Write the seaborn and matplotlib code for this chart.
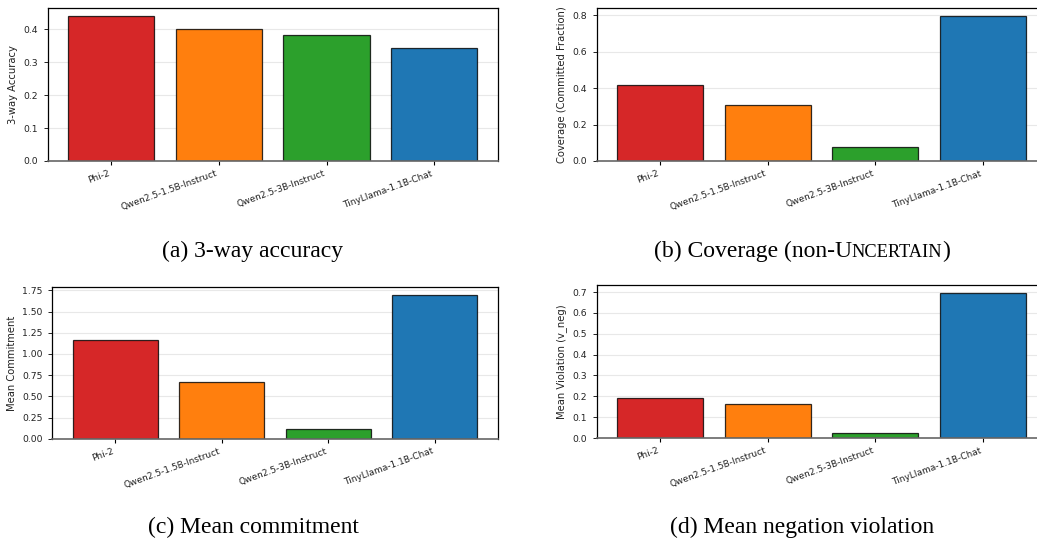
import matplotlib
matplotlib.use("Agg")
import matplotlib.pyplot as plt
import seaborn as sns

models = ["Phi-2", "Qwen2.5-1.5B-Instruct", "Qwen2.5-3B-Instruct", "TinyLlama-1.1B-Chat"]
colors = ["#d62728", "#ff7f0e", "#2ca02c", "#1f77b4"]

accuracy = [0.441, 0.401, 0.383, 0.342]
coverage = [0.416, 0.310, 0.075, 0.798]
commitment = [1.163, 0.674, 0.111, 1.702]
violation = [0.194, 0.165, 0.024, 0.698]

ylabels = ["3-way Accuracy", "Coverage (Committed Fraction)", "Mean Commitment", "Mean Violation (v_neg)"]

W, H = 1037, 542
fig = plt.figure(figsize=(W / 100, H / 100), dpi=100)

# axes boxes in pixels: left, top, right, bottom
boxes = [
    (47.7, 8.3, 497.7, 161.0),
    (596.7, 8.3, 1046.0, 161.0),
    (52.3, 287.3, 497.7, 438.7),
    (596.7, 285.3, 1046.0, 438.0),
]
series = [accuracy, coverage, commitment, violation]


def bar_panel(ax, values, ylabel):
    sns.barplot(x=models, y=values, hue=models, palette=colors, legend=False,
                edgecolor="black", linewidth=0.9, width=0.8, saturation=1, ax=ax)
    for p in ax.patches:
        p.set_edgecolor((0, 0, 0, 0.8))
    ax.set_xlim(-0.59, len(models) - 1 + 0.59)
    ax.set_ylim(0, max(values) * 1.05)
    ax.yaxis.grid(True, color="#cccccc", alpha=0.45, linewidth=0.8)
    ax.set_axisbelow(True)
    ax.set_ylabel(ylabel, fontsize=7.2, color="#222222")
    ax.set_xlabel("")
    ax.tick_params(axis="y", labelsize=6.7, length=2.8, width=0.6, pad=4, labelcolor="#222222")
    ax.tick_params(axis="x", labelsize=6.5, length=2.8, width=0.8, pad=3, labelcolor="#222222")
    plt.setp(ax.get_xticklabels(), rotation=20, ha="right")
    for s in ax.spines.values():
        s.set_linewidth(0.9)
    ax.spines["bottom"].set_color("#666666")
    ax.spines["bottom"].set_linewidth(1.2)


for (l, t, r, b), vals, lab in zip(boxes, series, ylabels):
    ax = fig.add_axes([l / W, 1 - b / H, (r - l) / W, (b - t) / H])
    bar_panel(ax, vals, lab)

serif = ["Liberation Serif", "DejaVu Serif"]
fs = 17
fig.text(253 / W, 1 - 257 / H, "(a) 3-way accuracy", ha="center", va="baseline", fontsize=fs, family=serif)
fig.text(253 / W, 1 - 533 / H, "(c) Mean commitment", ha="center", va="baseline", fontsize=fs, family=serif)
fig.text(802 / W, 1 - 533 / H, "(d) Mean negation violation", ha="center", va="baseline", fontsize=fs, family=serif)

# (b) caption with small caps for UNCERTAIN
parts = [("(b) Coverage (non-U", fs), ("NCERTAIN", fs * 0.78), (")", fs)]
texts = [fig.text(0, 1 - 257 / H, p, ha="left", va="baseline", fontsize=s, family=serif) for p, s in parts]
fig.canvas.draw()
r = fig.canvas.get_renderer()
widths = [t.get_window_extent(r).width for t in texts]
x = 802 - sum(widths) / 2
for t, w in zip(texts, widths):
    t.set_x(x / W)
    x += w

fig.savefig("out.png", dpi=100)
